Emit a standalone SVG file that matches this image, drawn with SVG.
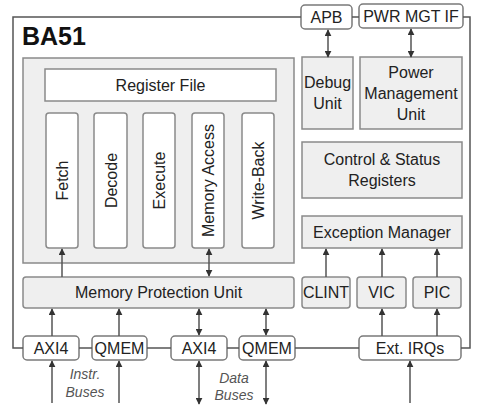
<svg xmlns="http://www.w3.org/2000/svg" width="480" height="413" viewBox="0 0 480 413">
<defs>
<marker id="ah" viewBox="0 0 10 10" refX="9" refY="5" markerWidth="7" markerHeight="7" markerUnits="userSpaceOnUse" orient="auto-start-reverse">
<path d="M0,0 L10,5 L0,10 z" fill="#333"/>
</marker>
<style>
.t{font-family:"Liberation Sans",Arial,sans-serif;font-size:16px;fill:#222;text-anchor:middle}
.g{fill:#efefef;stroke:#8a8a8a;stroke-width:1.5}
.w{fill:#fff;stroke:#8a8a8a;stroke-width:1.5}
.b{fill:#fff;stroke:#7a7a7a;stroke-width:1.5}
.c{stroke:#555;stroke-width:1.5;fill:none}
.a{stroke:#555;stroke-width:1.5;fill:none;marker-end:url(#ah)}
.d{stroke:#555;stroke-width:1.5;fill:none;marker-end:url(#ah);marker-start:url(#ah)}
.i{font-family:"Liberation Sans",Arial,sans-serif;font-size:14px;font-style:italic;fill:#555;text-anchor:middle}
</style>
</defs>
<rect width="480" height="413" fill="#fff"/>
<text x="22" y="45" style="font-family:'Liberation Sans',Arial,sans-serif;font-size:25px;font-weight:bold;fill:#111">BA51</text>
<g id="apb"><rect class="b" x="301" y="5" width="51" height="24" rx="4"/><text class="t" x="326.5" y="23">APB</text></g>
<g id="pwrmgtif"><rect class="b" x="359" y="4" width="104" height="24" rx="4"/><text class="t" x="411" y="22">PWR MGT IF</text></g>
<g id="pipeline"><rect class="g" x="23" y="58" width="271" height="205"/></g>
<g id="regfile"><rect class="w" x="45" y="69" width="231" height="32"/><text class="t" x="160.5" y="91">Register File</text></g>
<g id="fetch"><rect class="w" x="46" y="113" width="32" height="135" rx="3"/><text class="t" transform="translate(68,180.5) rotate(-90)">Fetch</text></g>
<g id="decode"><rect class="w" x="94" y="113" width="33" height="135" rx="3"/><text class="t" transform="translate(116.5,180.5) rotate(-90)">Decode</text></g>
<g id="execute"><rect class="w" x="143" y="113" width="32" height="135" rx="3"/><text class="t" transform="translate(165,180.5) rotate(-90)">Execute</text></g>
<g id="memaccess"><rect class="w" x="192" y="113" width="32" height="135" rx="3"/><text class="t" transform="translate(214,180.5) rotate(-90)">Memory Access</text></g>
<g id="writeback"><rect class="w" x="242" y="113" width="32" height="135" rx="3"/><text class="t" transform="translate(264,180.5) rotate(-90)">Write-Back</text></g>
<g id="mpu"><rect class="g" x="23" y="277" width="271" height="31" rx="3"/><text class="t" x="158.5" y="298">Memory Protection Unit</text></g>
<g id="debug"><rect class="g" x="302" y="57" width="51" height="72"/><text class="t" x="327.5" y="88">Debug</text><text class="t" x="327.5" y="109">Unit</text></g>
<g id="pmu"><rect class="g" x="360" y="57" width="102" height="72"/><text class="t" x="411" y="78">Power</text><text class="t" x="411" y="99">Management</text><text class="t" x="411" y="120">Unit</text></g>
<g id="csr"><rect class="g" x="302" y="142" width="160" height="56"/><text class="t" x="382" y="165">Control &amp; Status</text><text class="t" x="382" y="186">Registers</text></g>
<g id="excmgr"><rect class="g" x="302" y="216" width="160" height="32"/><text class="t" x="382" y="238">Exception Manager</text></g>
<g id="clint"><rect class="g" x="302" y="277" width="48" height="31" rx="3"/><text class="t" x="326" y="298">CLINT</text></g>
<g id="vic"><rect class="g" x="357" y="277" width="49" height="31" rx="3"/><text class="t" x="381.5" y="298">VIC</text></g>
<g id="pic"><rect class="g" x="413" y="277" width="48" height="31" rx="3"/><text class="t" x="437" y="298">PIC</text></g>
<g id="axi4i"><rect class="b" x="23" y="336" width="56" height="24" rx="4"/><text class="t" x="51" y="354">AXI4</text></g>
<g id="qmemi"><rect class="b" x="92" y="336" width="55" height="24" rx="4"/><text class="t" x="119.5" y="354">QMEM</text></g>
<g id="axi4d"><rect class="b" x="171" y="336" width="56" height="24" rx="4"/><text class="t" x="199" y="354">AXI4</text></g>
<g id="qmemd"><rect class="b" x="239" y="336" width="56" height="24" rx="4"/><text class="t" x="267" y="354">QMEM</text></g>
<g id="extirq"><rect class="b" x="359" y="336" width="102" height="24" rx="4"/><text class="t" x="410" y="354">Ext. IRQs</text></g>
<text class="i" x="85" y="379">Instr.</text>
<text class="i" x="85" y="397">Buses</text>
<text class="i" x="234" y="383">Data</text>
<text class="i" x="234" y="400">Buses</text>
<g id="connectors">
<path class="c" d="M301,17 H13 V348 H23"/>
<path class="c" d="M352,17 H359"/>
<path class="c" d="M463,17 H470 V348 H461"/>
<path class="c" d="M79,348 H92 M147,348 H171 M227,348 H239 M295,348 H359"/>
<path class="d" d="M328,30 V57"/>
<path class="d" d="M411,29 V57"/>
<path class="a" d="M62,277 V249"/>
<path class="d" d="M209,249 V276"/>
<path class="a" d="M52,336 V309"/>
<path class="a" d="M119,336 V309"/>
<path class="d" d="M199,309 V335"/>
<path class="d" d="M266,309 V335"/>
<path class="a" d="M52,403 V361"/>
<path class="a" d="M119,403 V361"/>
<path class="d" d="M199,361 V404"/>
<path class="d" d="M266,361 V404"/>
<path class="a" d="M410,403 V361"/>
<path class="a" d="M326,277 V249"/>
<path class="a" d="M382,277 V249"/>
<path class="a" d="M437,277 V249"/>
<path class="a" d="M382,336 V309"/>
<path class="a" d="M437,336 V309"/>
</g>
</svg>
